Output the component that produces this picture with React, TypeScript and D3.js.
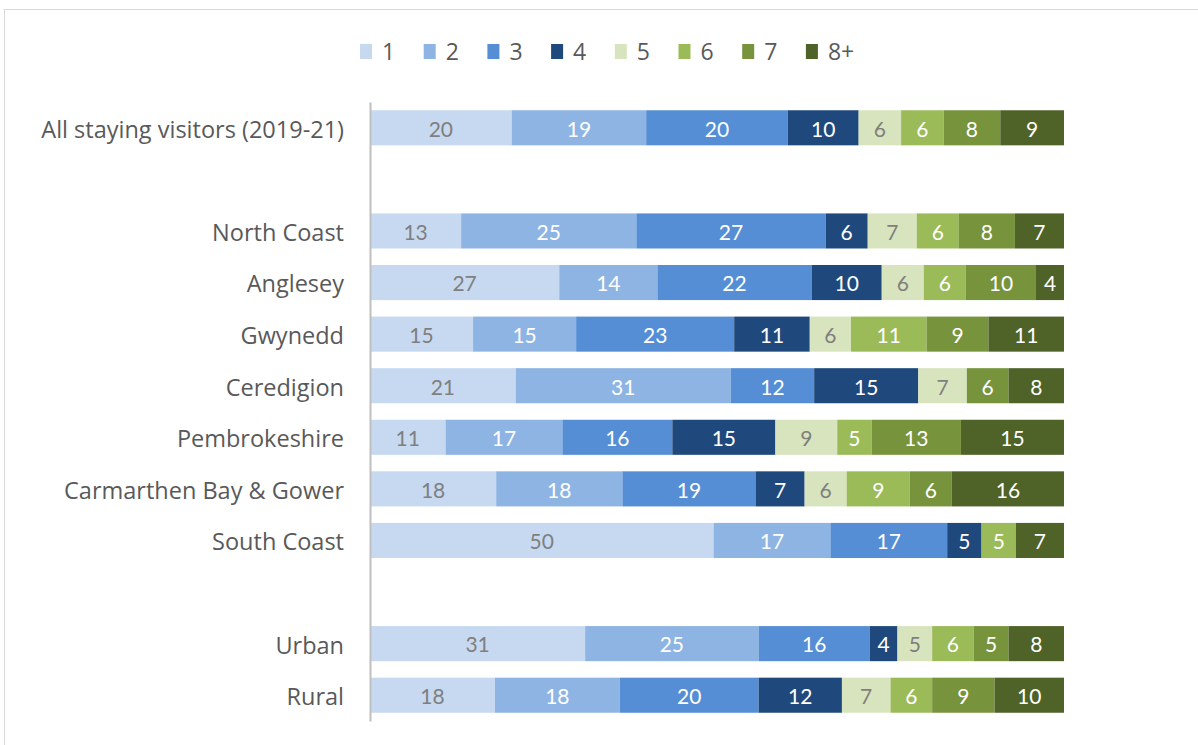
import React, { useEffect, useRef } from 'react';
import * as d3 from 'd3';

const categories = [
  'All staying visitors (2019-21)',
  '',
  'North Coast',
  'Anglesey',
  'Gwynedd',
  'Ceredigion',
  'Pembrokeshire',
  'Carmarthen Bay & Gower',
  'South Coast',
  ' ',
  'Urban',
  'Rural',
];

const seriesNames = ['1', '2', '3', '4', '5', '6', '7', '8+'];

// one array per series, in category order (blank rows are null)
const s1 = [20, null, 13, 27, 15, 21, 11, 18, 50, null, 31, 18];
const s2 = [19, null, 25, 14, 15, 31, 17, 18, 17, null, 25, 18];
const s3 = [20, null, 27, 22, 23, 12, 16, 19, 17, null, 16, 20];
const s4 = [10, null, 6, 10, 11, 15, 15, 7, 5, null, 4, 12];
const s5 = [6, null, 7, 6, 6, 7, 9, 6, 0, null, 5, 7];
const s6 = [6, null, 6, 6, 11, 0, 5, 9, 5, null, 6, 6];
const s7 = [8, null, 8, 10, 9, 6, 13, 6, 0, null, 5, 9];
const s8 = [9, null, 7, 4, 11, 8, 15, 16, 7, null, 8, 10];

const colors = ['#C6D9F1', '#8EB4E3', '#558ED5', '#1F497D', '#D7E4BD', '#9BBB59', '#77933C', '#4F6228'];
const labelColors = ['#7f7f7f', '#fff', '#fff', '#fff', '#7f7f7f', '#fff', '#fff', '#fff'];

const textFont = '"Open Sans", sans-serif';
const numFont = 'Lato, sans-serif';

export default function App() {
  const ref = useRef<SVGSVGElement>(null);

  useEffect(() => {
    const width = 1198, height = 745;
    const margin = { top: 102, right: 134, bottom: 24, left: 370 };
    const svg = d3.select(ref.current);
    svg.selectAll('*').remove();

    // chart area border
    svg.append('rect')
      .attr('x', 4.5).attr('y', 9.5)
      .attr('width', width + 20).attr('height', height + 20)
      .attr('fill', 'none').attr('stroke', '#d9d9d9').attr('stroke-width', 1);

    const all = [s1, s2, s3, s4, s5, s6, s7, s8];
    const rows = categories.map((c, i) => {
      const r: any = { cat: c };
      seriesNames.forEach((s, j) => { r[s] = all[j][i] ?? 0; });
      return r;
    });

    const stack = d3.stack<any>().keys(seriesNames).offset(d3.stackOffsetExpand);
    const stacked = stack(rows);

    const x = d3.scaleLinear().domain([0, 1]).range([margin.left, width - margin.right]);
    const y = d3.scaleBand().domain(categories).range([margin.top, height - margin.bottom]).paddingInner(0.32).paddingOuter(0.16);

    const g = svg.append('g');
    stacked.forEach((layer, j) => {
      const lg = g.append('g');
      layer.forEach((d, i) => {
        const v = all[j][i];
        if (!v) return;
        const x0 = x(d[0]), x1 = x(d[1]);
        lg.append('rect')
          .attr('x', x0).attr('y', y(categories[i])!)
          .attr('width', x1 - x0).attr('height', y.bandwidth())
          .attr('fill', colors[j]);
        lg.append('text')
          .attr('x', (x0 + x1) / 2)
          .attr('y', y(categories[i])! + y.bandwidth() / 2)
          .attr('dy', '0.42em')
          .attr('text-anchor', 'middle')
          .attr('font-family', numFont).attr('font-size', 21)
          .attr('fill', labelColors[j])
          .text(v);
      });
    });

    // category axis
    const axis = svg.append('g').attr('transform', `translate(${margin.left},0)`)
      .call(d3.axisLeft(y).tickSize(0).tickPadding(26));
    axis.select('.domain').attr('stroke', '#bfbfbf').attr('stroke-width', 2);
    axis.selectAll('text')
      .attr('dy', '0.42em')
      .attr('font-family', textFont).attr('font-size', 23.5).attr('fill', '#595959');

    // legend
    const legend = svg.append('g');
    seriesNames.forEach((s, j) => {
      const lx = 360 + j * 63.7;
      legend.append('rect').attr('x', lx).attr('y', 44).attr('width', 12).attr('height', 15).attr('fill', colors[j]);
      legend.append('text').attr('x', lx + 22).attr('y', 60)
        .attr('font-family', textFont).attr('font-size', 23).attr('fill', '#595959')
        .text(s);
    });
  }, []);

  return (
    <svg ref={ref} width={1198} height={745} style={{ position: 'absolute', left: 0, top: 0, background: '#fff' }} />
  );
}
